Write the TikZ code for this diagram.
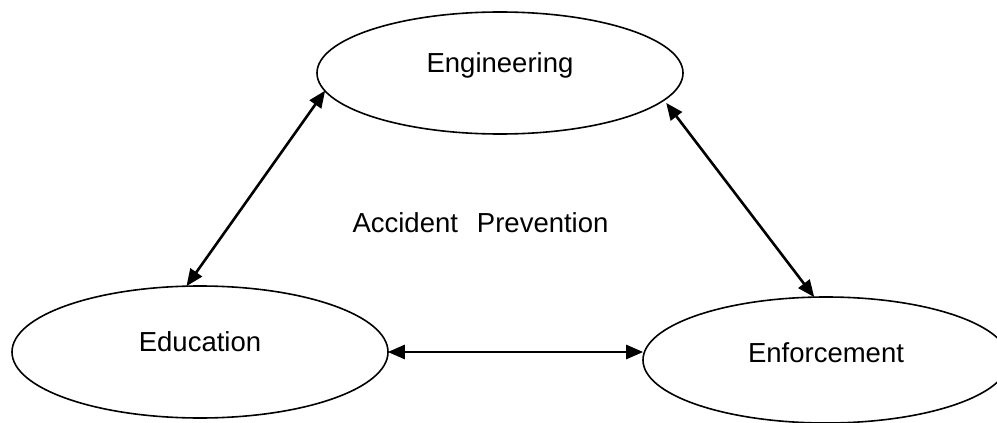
\documentclass[tikz,border=0pt]{standalone}
\usepackage{fontspec}
\setmainfont{Liberation Sans}
\usetikzlibrary{shapes.geometric,arrows.meta}
\begin{document}
\begin{tikzpicture}[x=1pt,y=-1pt,
  oval/.style={draw=black, line width=1.6pt, ellipse, inner sep=0pt},
  oval label/.style={inner sep=0pt, font=\fontsize{27.5}{33}\selectfont},
  link/.style={line width=2.6pt, {Triangle[length=17pt,width=14pt]}-{Triangle[length=17pt,width=14pt]}, shorten <=-1pt, shorten >=-1pt}
]
\useasboundingbox (0,0) rectangle (997,423);
\node[oval, minimum width=366pt, minimum height=122pt,
  label={[oval label, yshift=8pt]center:Engineering}] (eng) at (500,73) {};
\node[oval, minimum width=376pt, minimum height=132pt,
  label={[oval label, yshift=10pt]center:Education}] (edu) at (200,352) {};
\node[oval, minimum width=366pt, minimum height=126pt,
  label={[oval label, yshift=7pt]center:Enforcement}] (enf) at (826,360) {};
\node[anchor=base, inner sep=0pt, font=\fontsize{27.5}{33}\selectfont] (ap) at (480.5,232) {Accident\hspace{19pt}Prevention};
\draw[link] (eng.186.3) -- (edu.101.8);
\draw[link] ([shift={(4,2)}]eng.350) -- (enf.101.7);
\coordinate (hr) at (edu.east -| enf.west);
\draw[link] (edu.east) -- (hr);
\end{tikzpicture}
\end{document}
